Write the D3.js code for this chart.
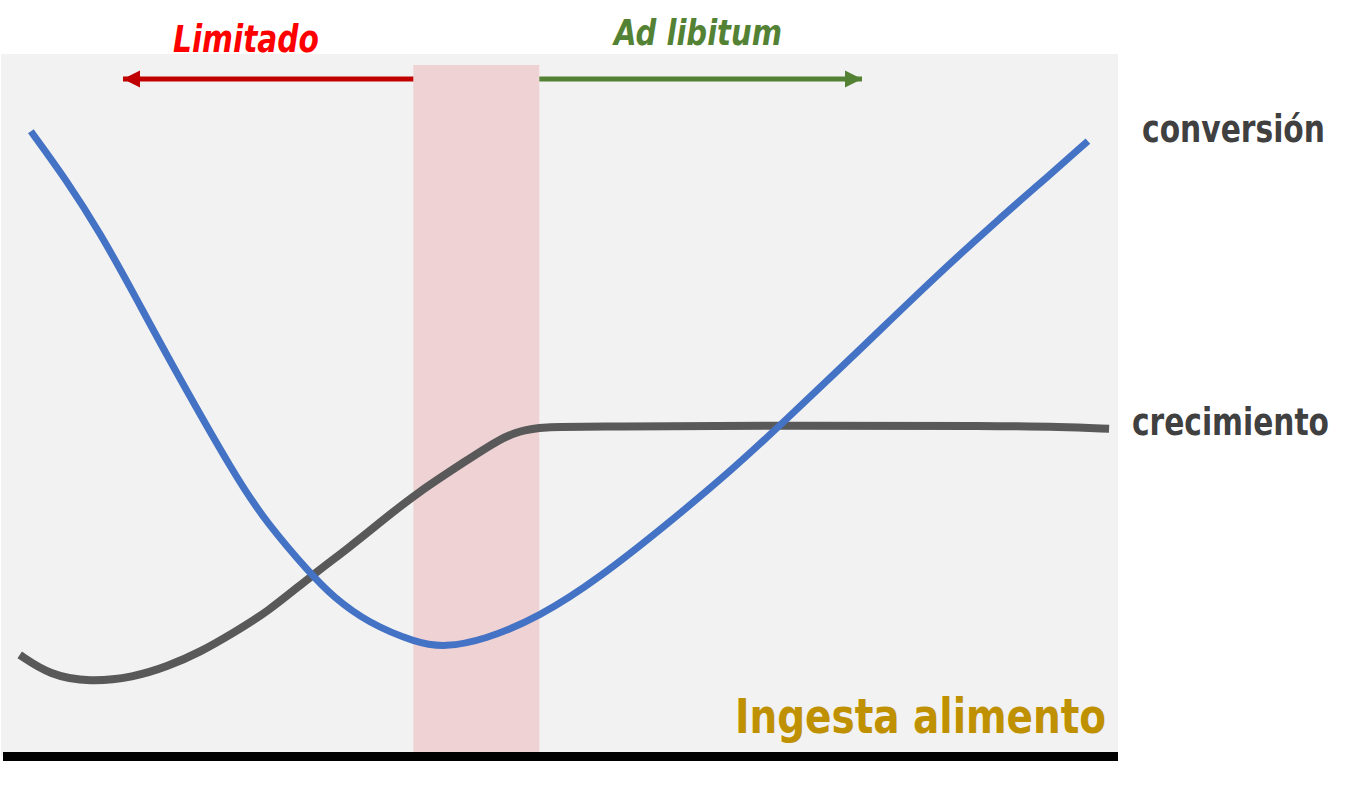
<!DOCTYPE html>
<html>
<head>
<meta charset="utf-8">
<script src="https://cdn.jsdelivr.net/npm/d3@7"></script>
<style>
  body { margin: 0; background: #fff; }
  svg { display: block; }
</style>
</head>
<body>
<div id="chart"></div>
<script>
// ingesta (0-100) vs respuesta (0-100)
var conversionX = [2.5, 5.7, 8.7, 11.7, 14.4, 21.0, 23.7, 27.5, 29.6, 32.7, 37.1, 39.6, 43.1, 48.1, 53.5, 59.6, 65.5, 69.7, 77.5, 83.4, 89.4, 93.9, 97.3]
var conversionY = [89.1, 82.1, 74.6, 66.0, 57.9, 39.3, 33.1, 26.0, 22.6, 18.9, 16.0, 15.4, 16.4, 19.7, 25.3, 33.0, 40.9, 47.1, 58.9, 68.0, 76.7, 82.9, 87.7]

var crecimientoX = [1.5, 4.2, 7.8, 11.7, 14.7, 17.7, 20.6, 23.7, 27.5, 31.1, 34.1, 37.1, 41.6, 44.6, 46.4, 48.2, 53.5, 71.5, 89.4, 94.8, 99.2]
var crecimientoY = [14.3, 11.4, 10.4, 11.1, 12.6, 14.7, 17.4, 20.4, 25.4, 29.7, 33.6, 37.4, 42.1, 45.2, 46.3, 46.9, 46.9, 47.1, 47.0, 46.9, 46.6]

var zona = [36.8, 48.1]   // rango optimo de ingesta
var seriesNames = ["conversión", "crecimiento"]
var seriesColors = ["#4472c4", "#595959"]

var width = 1354, height = 791
var panel = {left: 1, right: 1118, top: 54, bottom: 756}

const svg = d3.select("#chart").append("svg")
    .attr("width", width)
    .attr("height", height)

var x = d3.scaleLinear().domain([0, 100]).range([3, 1118])
var y = d3.scaleLinear().domain([0, 100]).range([755, 55])

svg.append("defs").selectAll("marker")
  .data([["headRed", "#c00000"], ["headGreen", "#548235"]])
  .join("marker")
    .attr("id", d => d[0])
    .attr("viewBox", "0 0 10 10")
    .attr("refX", 10).attr("refY", 5)
    .attr("markerWidth", 3.4).attr("markerHeight", 3.6)
    .attr("markerUnits", "strokeWidth")
    .attr("orient", "auto")
  .append("path")
    .attr("d", "M0,0 L10,5 L0,10 Z")
    .attr("fill", d => d[1])

// fondo gris
svg.append("rect")
    .attr("x", panel.left).attr("y", panel.top)
    .attr("width", panel.right - panel.left)
    .attr("height", panel.bottom - panel.top)
    .attr("fill", "#f2f2f2")

// zona rosa
svg.append("rect")
    .attr("x", x(zona[0])).attr("y", 65)
    .attr("width", x(zona[1]) - x(zona[0]))
    .attr("height", 756 - 65)
    .attr("fill", "#efd2d4")

// flechas
svg.append("line")
    .attr("x1", x(zona[0])).attr("x2", 123)
    .attr("y1", 79).attr("y2", 79)
    .attr("stroke", "#c00000").attr("stroke-width", 5)
    .attr("marker-end", "url(#headRed)")
svg.append("line")
    .attr("x1", x(zona[1])).attr("x2", 862)
    .attr("y1", 79).attr("y2", 79)
    .attr("stroke", "#548235").attr("stroke-width", 5)
    .attr("marker-end", "url(#headGreen)")

var line = d3.line()
    .x(d => x(d[0]))
    .y(d => y(d[1]))
    .curve(d3.curveBasis)

var series = [
  d3.zip(conversionX, conversionY),
  d3.zip(crecimientoX, crecimientoY)
]

svg.append("g")
  .selectAll("path")
  .data([series[1], series[0]])
  .join("path")
    .attr("d", line)
    .attr("fill", "none")
    .attr("stroke", (d, i) => i == 0 ? seriesColors[1] : seriesColors[0])
    .attr("stroke-width", (d, i) => i == 0 ? 8 : 7)
    .attr("stroke-linecap", "butt")

// eje x
svg.append("line")
    .attr("x1", 3).attr("x2", 1118)
    .attr("y1", 756.5).attr("y2", 756.5)
    .attr("stroke", "#000").attr("stroke-width", 9)

var font = "'Liberation Sans Narrow', 'DejaVu Sans Condensed', 'Open Sans', sans-serif"

function label(txt, x0, base, len, size, color, italic) {
  svg.append("text")
      .attr("x", x0).attr("y", base)
      .attr("font-family", font)
      .attr("font-weight", "bold")
      .attr("font-style", italic ? "italic" : "normal")
      .attr("font-size", size)
      .attr("fill", color)
      .attr("textLength", len)
      .attr("lengthAdjust", "spacingAndGlyphs")
      .text(txt)
}

label("Limitado", 173, 52, 146, 37, "#ff0000", true)
label("Ad libitum", 614, 45, 168, 35, "#548235", true)
label(seriesNames[0], 1142, 142, 183, 37, "#404040", false)
label(seriesNames[1], 1132, 435, 197, 37, "#404040", false)
label("Ingesta alimento", 735, 733, 371, 48, "#bf9000", false)
</script>
</body>
</html>
